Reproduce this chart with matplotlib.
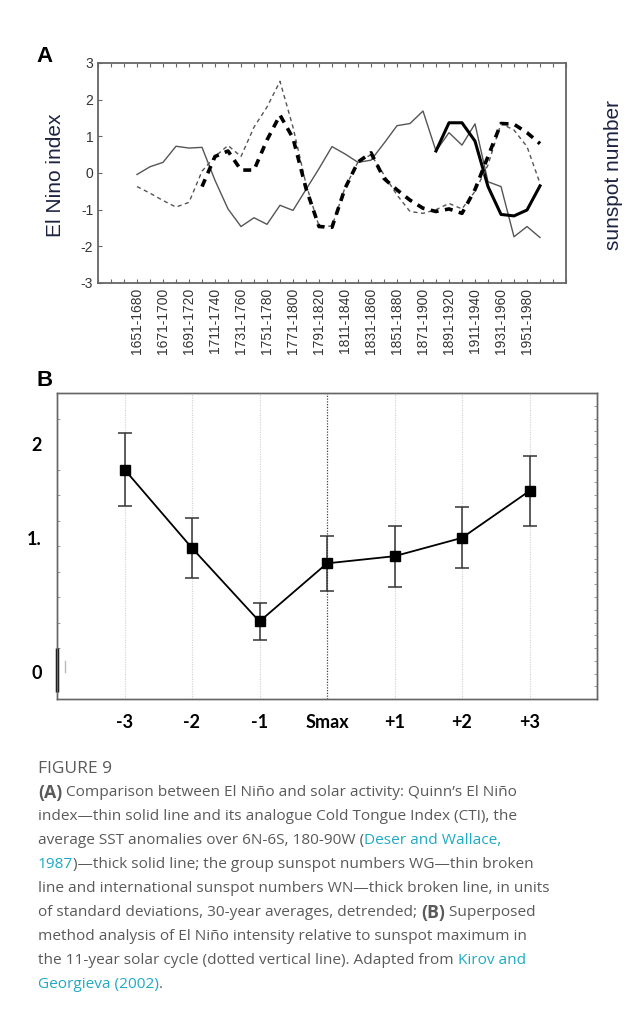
import matplotlib.pyplot as plt
import numpy as np

nan = np.nan

# panel A: 30-year windows shifted by 10 years
periods = ["1651-1680", "1661-1690", "1671-1700", "1681-1710", "1691-1720", "1701-1730",
           "1711-1740", "1721-1750", "1731-1760", "1741-1770", "1751-1780", "1761-1790",
           "1771-1800", "1781-1810", "1791-1820", "1801-1830", "1811-1840", "1821-1850",
           "1831-1860", "1841-1870", "1851-1880", "1861-1890", "1871-1900", "1881-1910",
           "1891-1920", "1901-1930", "1911-1940", "1921-1950", "1931-1960", "1941-1970",
           "1951-1980", "1961-1990"]
quinn = [-0.04, 0.17, 0.29, 0.73, 0.68, 0.70, -0.20, -0.98, -1.46, -1.22, -1.40, -0.88,
         -1.02, -0.45, 0.12, 0.72, 0.52, 0.29, 0.35, 0.81, 1.29, 1.35, 1.69, 0.60,
         1.10, 0.76, 1.34, -0.24, -0.37, -1.74, -1.46, -1.76]
cti = [nan] * 23 + [0.60, 1.37, 1.37, 0.87, -0.37, -1.13, -1.17, -1.01, -0.35]
wg = [-0.37, -0.55, -0.75, -0.93, -0.80, 0.05, 0.45, 0.75, 0.45, 1.25, 1.80, 2.50,
      1.25, -0.30, -1.45, -1.45, -0.40, 0.30, 0.50, -0.05, -0.60, -1.05, -1.10, -1.00,
      -0.83, -0.98, -0.50, 0.22, 1.35, 1.17, 0.72, -0.28]
wn = [nan] * 5 + [-0.37, 0.45, 0.60, 0.08, 0.08, 0.90, 1.58, 0.95, -0.42, -1.46, -1.48,
                  -0.42, 0.30, 0.55, -0.15, -0.46, -0.74, -0.96, -1.05, -0.98, -1.10,
                  -0.45, 0.45, 1.35, 1.33, 1.10, 0.80]

# panel B: superposed epoch
epochs = ["-3", "-2", "-1", "Smax", "+1", "+2", "+3"]
intensity = [1.75, 0.98, 0.26, 0.83, 0.90, 1.08, 1.54]
err = [0.36, 0.29, 0.18, 0.27, 0.30, 0.30, 0.34]

fig = plt.figure(figsize=(6.44, 10.16), dpi=100)
W, H = 644, 1016

# ---------------- panel A
axA = fig.add_axes([98 / W, 1 - 283 / H, 468 / W, 220 / H])
x = np.arange(len(periods))
axA.plot(x, quinn, "-", color="#555555", lw=1.0)
axA.plot(x, cti, "-", color="black", lw=2.2)
axA.plot(x, wg, "--", color="#555555", lw=1.0, dashes=(3, 2.5))
axA.plot(x, wn, "--", color="black", lw=2.6, dashes=(2.2, 1.8))
axA.set_xlim(-3, 33)
axA.set_ylim(-3, 3)
axA.set_xticks(x[::2])
axA.set_xticklabels(periods[::2], rotation=90, fontsize=10, color="#333333",
                    family="Liberation Sans")
axA.set_xticks(np.arange(-3, 34), minor=True)
axA.set_yticks([3, 2, 1, 0, -1, -2, -3])
axA.set_yticklabels(["3", "2", "1", "0", "-1", "-2", "-3"], fontsize=10, color="#333333",
                    family="Liberation Sans")
axA.tick_params(which="both", direction="in", top=True, right=True, labelright=True,
                length=3, color="#666666", width=0.8)
for s in axA.spines.values():
    s.set_color("#666666")
    s.set_linewidth(1.3)
axA.set_ylabel("El Nino index", fontsize=15, color="#1c2340", family="Liberation Sans")
axA.yaxis.set_label_coords(-0.07, 0.49)
axA2 = axA.twinx()
axA2.set_ylim(-3, 3)
axA2.set_yticks([])
for s in axA2.spines.values():
    s.set_visible(False)
axA2.set_ylabel("sunspot number", fontsize=15, color="#1c2340", family="Liberation Sans")
axA2.yaxis.set_label_coords(1.081, 0.49)
fig.text(36 / W, 1 - 56 / H, "A", fontsize=16, fontweight="bold", family="Liberation Sans",
         va="center")

# ---------------- panel B
axB = fig.add_axes([57 / W, 1 - 699 / H, 540 / W, 306 / H])
xb = np.arange(len(epochs))
for i, lab in enumerate(epochs):
    if lab == "Smax":
        axB.axvline(xb[i], color="#444444", lw=0.9, ls=(0, (1, 1.2)), zorder=0)
    else:
        axB.axvline(xb[i], color="#d0d0d0", lw=0.8, ls=(0, (1, 1.2)), zorder=0)
axB.errorbar(xb, intensity, yerr=err, fmt="-s", color="black", ecolor="#333333",
             elinewidth=1.1, capsize=5, capthick=1.1, lw=1.3, ms=6.5)
axB.set_xlim(-1, 7)
axB.set_ylim(-0.5, 2.5)
axB.set_xticks(xb)
axB.set_xticklabels(epochs, fontsize=13, fontweight="bold", family="Lato")
axB.tick_params(axis="x", length=0, pad=11)
axB.set_yticks([2, 1.08, -0.24])
axB.set_yticklabels(["2", "1.", "0"], fontsize=13, fontweight="bold", family="Lato")
axB.tick_params(axis="y", length=0, pad=11)
axB.set_yticks(np.arange(0, 2.3, 0.25), minor=True)
axB.tick_params(axis="y", which="minor", direction="in", length=2.5, color="#999999",
                width=0.7)
axBr = axB.twinx()
axBr.set_ylim(-0.5, 2.5)
axBr.set_yticks([])
axBr.set_yticks(np.arange(-0.375, 2.45, 0.125), minor=True)
axBr.tick_params(axis="y", which="minor", direction="in", length=2.5, color="#999999",
                 width=0.7)
for ax in (axB, axBr):
    for s in ax.spines.values():
        s.set_color("#666666")
        s.set_linewidth(1.0)
# stray marks at the bottom left of the original
axB.plot([-1, -1], [0.0, -0.43], color="black", lw=2.5, clip_on=False, solid_capstyle="butt")
axB.plot([-0.88, -0.88], [-0.13, -0.24], color="#bbbbbb", lw=1.0)
fig.text(36 / W, 1 - 380 / H, "B", fontsize=16, fontweight="bold", family="Liberation Sans",
         va="center")

# ---------------- caption
grey = "#5a5a5a"
teal = "#1eaac4"
cap_font = "Open Sans"
cap_size = 11.1
fig.text(38 / W, 1 - 769 / H, "FIGURE 9", fontsize=12.5, color=grey, family=cap_font,
         va="center")

caption = [
    [("(A)", grey, "bold"), (" Comparison between El Niño and solar activity: Quinn’s El Niño", grey, "normal")],
    [("index—thin solid line and its analogue Cold Tongue Index (CTI), the", grey, "normal")],
    [("average SST anomalies over 6N-6S, 180-90W (", grey, "normal"), ("Deser and Wallace,", teal, "normal")],
    [("1987", teal, "normal"), (")—thick solid line; the group sunspot numbers WG—thin broken", grey, "normal")],
    [("line and international sunspot numbers WN—thick broken line, in units", grey, "normal")],
    [("of standard deviations, 30-year averages, detrended; ", grey, "normal"), ("(B)", grey, "bold"), (" Superposed", grey, "normal")],
    [("method analysis of El Niño intensity relative to sunspot maximum in", grey, "normal")],
    [("the 11-year solar cycle (dotted vertical line). Adapted from ", grey, "normal"), ("Kirov and", teal, "normal")],
    [("Georgieva (2002)", teal, "normal"), (".", grey, "normal")],
]
renderer = fig.canvas.get_renderer()
y0 = 793
for k, line in enumerate(caption):
    xpx = 38
    ypx = y0 + 24 * k
    for txt, col, wt in line:
        size = cap_size * 1.15 if wt == "bold" else cap_size
        t = fig.text(xpx / W, 1 - ypx / H, txt, fontsize=size, color=col, fontweight=wt,
                     family=cap_font, va="center")
        xpx += t.get_window_extent(renderer).width

fig.savefig("out.png", dpi=100)
